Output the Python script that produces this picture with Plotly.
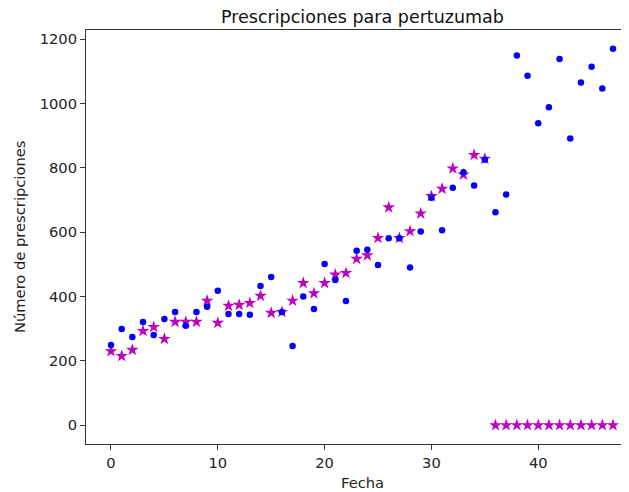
import plotly.graph_objects as go

fecha = list(range(48))
reales = [249, 299, 274, 321, 280, 330, 352, 309, 352, 368,
          418, 346, 346, 343, 433, 461, 352, 246, 400, 361,
          501, 451, 386, 542, 545, 498, 581, 581, 490, 602,
          707, 606, 738, 786, 745, 825, 662, 717, 1149, 1086,
          939, 988, 1138, 891, 1065, 1114, 1047, 1170]
predichas = [230, 215, 234, 293, 305, 268, 321, 321, 321, 387,
             318, 371, 374, 380, 402, 349, 352, 387, 442, 410,
             442, 468, 473, 517, 528, 582, 677, 582, 603, 658,
             712, 735, 798, 779, 840, 828, 0, 0, 0, 0,
             0, 0, 0, 0, 0, 0, 0, 0]

fig = go.Figure()
fig.add_trace(go.Scatter(x=fecha, y=predichas, mode="markers",
                         marker=dict(symbol="star", size=9.5, color="#bf00bf", line=dict(width=0)),
                         showlegend=False))
fig.add_trace(go.Scatter(x=fecha, y=reales, mode="markers",
                         marker=dict(symbol="circle", size=6.5, color="#0000ff", line=dict(width=0)),
                         showlegend=False))

font = "DejaVu Sans, sans-serif"
# page body has an 8px margin; figure sized to fill the remaining window
OFF = 8
W, H = 629 - OFF, 492 - OFF
L, T, B = 86 - OFF, 30 - OFF, 48
fig.update_layout(
    width=W, height=H,
    margin=dict(l=L, r=0, t=T, b=B, autoexpand=False),
    plot_bgcolor="white", paper_bgcolor="white",
    font=dict(family=font, size=14.7, color="#222"),
    showlegend=False,
    annotations=[
        dict(text="Prescripciones para pertuzumab", x=(362 - 86) / (629 - 86), y=1, xref="paper", yref="paper",
             xanchor="center", yanchor="bottom", yshift=1, showarrow=False,
             font=dict(family=font, size=17.5, color="#111")),
        dict(text="Fecha", x=(362 - 86) / (629 - 86), y=0, xref="paper", yref="paper",
             xanchor="center", yanchor="top", yshift=-28, showarrow=False,
             font=dict(family=font, size=14.7, color="#222")),
        dict(text="Número de prescripciones", x=0, y=0.5, xref="paper", yref="paper",
             xanchor="center", yanchor="middle", xshift=-(86 - 19), textangle=-90, showarrow=False,
             font=dict(family=font, size=14.7, color="#222")),
    ],
)
fig.update_xaxes(range=[-2.34, 48.5], tickvals=[0, 10, 20, 30, 40], showgrid=False, zeroline=False,
                 showline=True, linecolor="#333", linewidth=1, mirror=True, automargin=False,
                 ticks="outside", ticklen=5, tickcolor="#333",
                 tickfont=dict(family=font, size=14.7, color="#222"))
fig.update_yaxes(range=[-58.5, 1228.5], tickvals=[0, 200, 400, 600, 800, 1000, 1200], showgrid=False,
                 zeroline=False, showline=True, linecolor="#333", linewidth=1, automargin=False,
                 ticks="outside", ticklen=5, tickcolor="#333",
                 tickfont=dict(family=font, size=14.7, color="#222"))

fig.write_html("out.html")
